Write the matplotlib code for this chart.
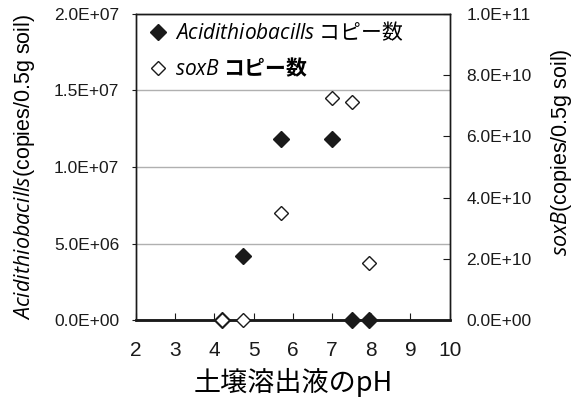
import matplotlib
matplotlib.use("Agg")
import matplotlib.pyplot as plt
from matplotlib.ticker import FuncFormatter, MultipleLocator

plt.rcParams['font.family'] = ['Liberation Sans', 'Noto Sans CJK JP', 'DejaVu Sans']
plt.rcParams['mathtext.fontset'] = 'custom'
plt.rcParams['mathtext.it'] = 'Open Sans:italic'
plt.rcParams['mathtext.rm'] = 'Liberation Sans'

# soil leachate pH of each sample
ph = [4.2, 4.72, 5.71, 7.01, 7.5, 7.93]
# Acidithiobacills copies per 0.5 g soil
acidi = [0.0, 4.2e6, 1.18e7, 1.18e7, 0.0, 0.0]
# soxB copies per 0.5 g soil
soxb = [0.0, 0.0, 3.5e10, 7.25e10, 7.12e10, 1.86e10]

jp = 'Noto Sans CJK JP'

fig = plt.figure(figsize=(5.73, 4.0), dpi=100)
ax = fig.add_axes([0.2373, 0.2, 0.5475, 0.765])
ax2 = ax.twinx()

ax.plot(ph, acidi, linestyle='none', marker='D', markersize=8.6,
        color='#1a1a1a', clip_on=False, zorder=3,
        label=r'$\mathit{Acidithiobacills}$ コピー数')
ax2.plot(ph, soxb, linestyle='none', marker='D', markersize=7.0,
         markerfacecolor='white', markeredgecolor='#1a1a1a', markeredgewidth=1.0,
         clip_on=False, zorder=3, label=r'$\mathit{soxB}$ コピー数')

ax.set_xlim(2, 10)
ax.set_ylim(0, 2.0e7)
ax2.set_ylim(0, 1.0e11)
ax.xaxis.set_major_locator(MultipleLocator(1))
ax.yaxis.set_major_locator(MultipleLocator(5e6))
ax2.yaxis.set_major_locator(MultipleLocator(2e10))

sci = FuncFormatter(lambda v, p: f"{v:.1E}")
ax.yaxis.set_major_formatter(sci)
ax2.yaxis.set_major_formatter(sci)

ax.grid(axis='y', color='#b0b0b0', linewidth=1.0)
ax.set_axisbelow(True)

ax.tick_params(axis='x', direction='in', length=5, width=0.8, labelsize=15, pad=15, colors='#1a1a1a')
ax.tick_params(axis='y', direction='out', length=3, width=0.8, labelsize=12.5, pad=9, colors='#1a1a1a')
ax2.tick_params(axis='y', direction='in', length=5, width=0.8, labelsize=12.5, pad=12, colors='#1a1a1a')

for a in (ax, ax2):
    for s in a.spines.values():
        s.set_color('#1a1a1a')
        s.set_linewidth(1.0)
    a.spines['bottom'].set_linewidth(1.8)

ax.set_xlabel('土壌溶出液のpH', fontsize=19.5, family=jp, labelpad=6)
ax.set_ylabel(r'$\mathit{Acidithiobacills}$(copies/0.5g soil)', fontsize=15.5)
ax.yaxis.set_label_coords(-0.315, 0.5)
ax2.set_ylabel(r'$\mathit{soxB}$(copies/0.5g soil)', fontsize=15.5, rotation=90)
ax2.yaxis.set_label_coords(1.318, 0.549)

h1, l1 = ax.get_legend_handles_labels()
h2, l2 = ax2.get_legend_handles_labels()
leg = ax2.legend(h1 + h2, l1 + l2, loc='upper left', frameon=False,
                 prop={'family': jp, 'size': 15}, handletextpad=0.07,
                 labelspacing=0.58, borderpad=0.3, borderaxespad=0.0,
                 handlelength=1.5)
leg.get_texts()[1].set_fontweight('bold')

fig.savefig('out.png', dpi=100)
